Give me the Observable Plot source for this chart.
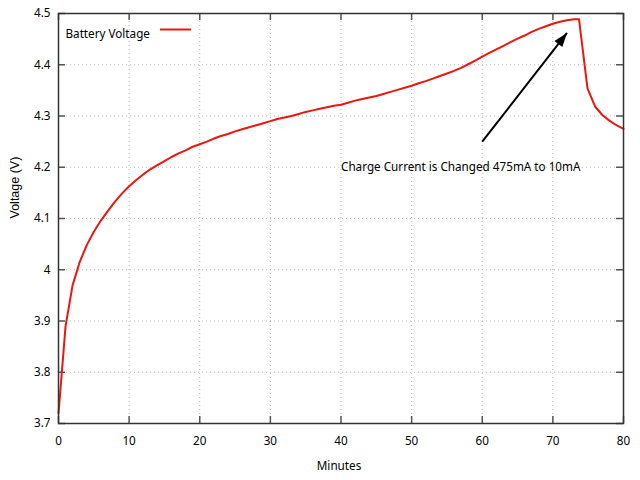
<!DOCTYPE html>
<html>
<head>
<meta charset="utf-8">
<script src="https://cdn.jsdelivr.net/npm/d3@7"></script>
<script src="https://cdn.jsdelivr.net/npm/@observablehq/plot@0.6"></script>
<style>
  html, body { margin: 0; padding: 0; background: #fff; }
  #chart { width: 640px; height: 480px; }
</style>
</head>
<body>
<div id="chart"></div>
<script>
const minutes = [0,1,2,3,4,5,6,7,8,9,10,11,12,13,14,15,16,17,18,19,20,21,22,23,24,25,26,27,28,29,30,31,32,33,34,35,36,37,38,39,40,41,42,43,44,45,46,47,48,49,50,51,52,53,54,55,56,57,58,59,60,61,62,63,64,65,66,67,68,69,70,71,72,73,73.7,74.9,76,77,78,79,80];
const voltage = [3.72,3.89,3.97,4.015,4.048,4.074,4.096,4.115,4.133,4.149,4.163,4.175,4.186,4.196,4.204,4.212,4.220,4.227,4.233,4.240,4.245,4.250,4.256,4.261,4.265,4.270,4.274,4.278,4.282,4.286,4.290,4.294,4.297,4.300,4.304,4.308,4.311,4.314,4.317,4.320,4.322,4.326,4.330,4.333,4.336,4.339,4.343,4.347,4.351,4.355,4.359,4.364,4.368,4.373,4.378,4.383,4.388,4.394,4.401,4.408,4.416,4.423,4.430,4.437,4.444,4.451,4.457,4.464,4.470,4.475,4.480,4.484,4.487,4.489,4.489,4.354,4.318,4.302,4.291,4.282,4.275];
const xTicks = [0,10,20,30,40,50,60,70,80];
const yTicks = [3.7,3.8,3.9,4,4.1,4.2,4.3,4.4,4.5];
const seriesName = "Battery Voltage";
const annotation = {x: 40, y: 4.2, text: "Charge Current is Changed 475mA to 10mA"};
const arrow = {x1: 60, y1: 4.25, x2: 72, y2: 4.462};

const data = minutes.map((m, i) => ({m, v: voltage[i]}));
const red = "#e8170f";

const W = 640, H = 480, ML = 58, MR = 17, MT = 13, MB = 57;
const fw = W - ML - MR, fh = H - MT - MB;
const tickLen = 7;
const fs = 11.7;

const headShape = {
  draw(context) {
    context.moveTo(0, 0);
    context.lineTo(-5, 14);
    context.lineTo(5, 14);
    context.closePath();
  }
};
const angle = Math.atan2((arrow.x2 - arrow.x1) * fw / 80, (arrow.y2 - arrow.y1) * fh / 0.8) * 180 / Math.PI;

const chart = Plot.plot({
  width: W, height: H,
  marginLeft: ML, marginRight: MR, marginTop: MT, marginBottom: MB,
  style: {fontFamily: "'Noto Sans', sans-serif", fontSize: fs + "px", color: "#000", background: "#fff"},
  x: {domain: [0, 80]},
  y: {domain: [3.7, 4.5]},
  marks: [
    Plot.gridX(xTicks.slice(1, -1), {stroke: "#bbb", strokeOpacity: 1, strokeDasharray: "1,3"}),
    Plot.gridY(yTicks.slice(1, -1), {stroke: "#bbb", strokeOpacity: 1, strokeDasharray: "1,3"}),
    Plot.ruleX(xTicks, {insetTop: fh - tickLen, stroke: "#555", strokeWidth: 1.5}),
    Plot.ruleX(xTicks, {insetBottom: fh - tickLen, stroke: "#555", strokeWidth: 1.5}),
    Plot.ruleY(yTicks, {insetRight: fw - tickLen, stroke: "#555", strokeWidth: 1.5}),
    Plot.ruleY(yTicks, {insetLeft: fw - tickLen, stroke: "#555", strokeWidth: 1.5}),
    Plot.axisX({ticks: xTicks, tickSize: 0, tickPadding: 13, label: null, tickFormat: d => String(d), fontSize: fs}),
    Plot.axisY({ticks: yTicks, tickSize: 0, tickPadding: 8, label: null, tickFormat: d => String(d), fontSize: fs}),
    Plot.text(["Minutes"], {frameAnchor: "bottom", dy: 46, dx: -2, fontSize: fs}),
    Plot.text(["Voltage (V)"], {frameAnchor: "left", rotate: -90, dx: -44, fontSize: 12.5, fontFamily: "'Liberation Sans', Arial, sans-serif"}),
    Plot.text([annotation], {x: "x", y: "y", text: "text", textAnchor: "start", fill: "#000"}),
    Plot.link([arrow], {x1: "x1", y1: "y1", x2: "x2", y2: "y2", stroke: "#000", strokeWidth: 2}),
    Plot.dot([arrow], {x: "x2", y: "y2", symbol: headShape, fill: "#000", stroke: "none", r: 5, rotate: angle}),
    Plot.line(data, {x: "m", y: "v", stroke: red, strokeWidth: 2}),
    Plot.text([seriesName], {frameAnchor: "top-left", dx: 7, dy: 16, textAnchor: "start"}),
    Plot.ruleY([4.5], {dy: 16, insetLeft: 102, insetRight: fw - 133, stroke: red, strokeWidth: 2}),
    Plot.frame({stroke: "#333", strokeWidth: 1.5})
  ]
});
document.getElementById("chart").appendChild(chart);
</script>
</body>
</html>
